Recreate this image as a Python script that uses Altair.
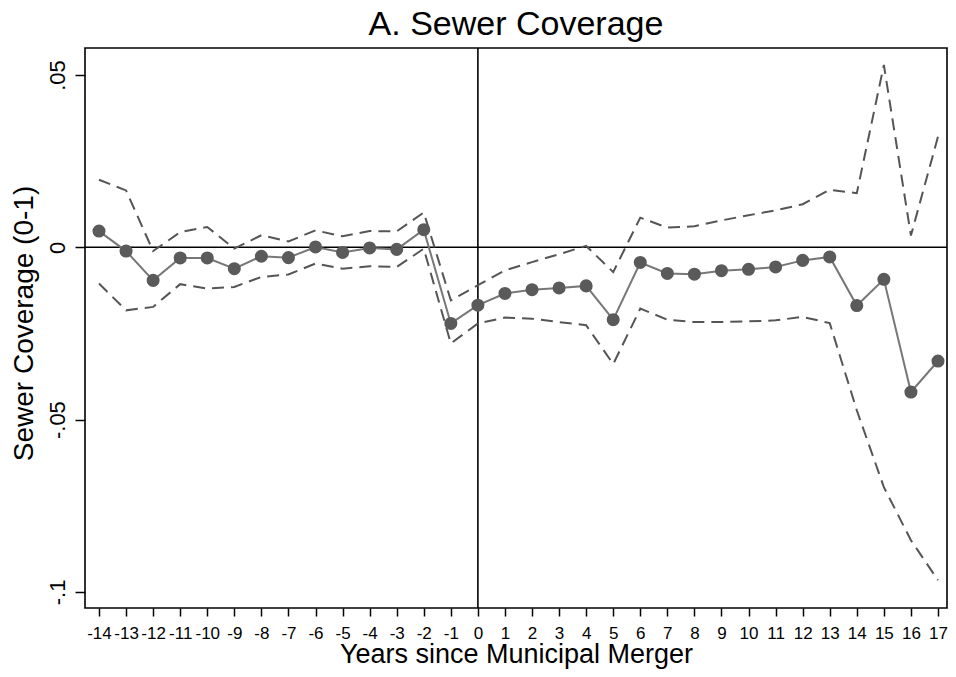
import altair as alt
import pandas as pd

# event-study estimates
years = list(range(-14, 18))
coef = [0.0047, -0.0011, -0.0096, -0.0031, -0.0031, -0.0062, -0.0026, -0.0030,
        0.0001, -0.0015, -0.0002, -0.0006, 0.0051, -0.0221, -0.0168, -0.0134,
        -0.0123, -0.0118, -0.0112, -0.0210, -0.0044, -0.0076, -0.0078, -0.0068,
        -0.0064, -0.0057, -0.0038, -0.0028, -0.0169, -0.0093, -0.0420, -0.0330]
ci_upper = [0.0196, 0.0165, -0.0011, 0.0044, 0.0059, -0.0004, 0.0035, 0.0017,
            0.0049, 0.0032, 0.0047, 0.0046, 0.0101, -0.0154, -0.0110, -0.0067,
            -0.0043, -0.0020, 0.0004, -0.0072, 0.0086, 0.0057, 0.0061, 0.0078,
            0.0093, 0.0107, 0.0125, 0.0167, 0.0157, 0.0529, 0.0034, 0.0321]
ci_lower = [-0.0105, -0.0183, -0.0173, -0.0107, -0.0120, -0.0115, -0.0086, -0.0079,
            -0.0047, -0.0062, -0.0055, -0.0057, -0.0004, -0.0279, -0.0221, -0.0204,
            -0.0207, -0.0217, -0.0226, -0.0339, -0.0178, -0.0210, -0.0217, -0.0217,
            -0.0215, -0.0212, -0.0202, -0.0220, -0.0473, -0.0696, -0.0850, -0.0966]
y_ticks = [-0.1, -0.05, 0, 0.05]

df = pd.DataFrame({'year': years, 'coef': coef, 'upper': ci_upper, 'lower': ci_lower})
zero = pd.DataFrame({'v': [0]})

FONT = 'Liberation Sans'
x_scale = alt.Scale(domain=[-14.517, 17.333], nice=False, zero=False)
y_scale = alt.Scale(domain=[-0.10467, 0.05783], nice=False, zero=False)

x_axis = alt.Axis(
    values=years, labelExpr="'' + datum.value", title='Years since Municipal Merger',
    grid=False, domain=False, tickSize=8, tickColor='black', tickWidth=1.5,
    labelFontSize=17, labelPadding=22, labelBaseline='alphabetic', labelColor='black',
    labelOverlap=False, labelFlush=False, labelBound=False,
    titleFontSize=27, titleFontWeight='normal', titleColor='black',
    titleBaseline='alphabetic', titleY=54
)
y_axis = alt.Axis(
    values=y_ticks, labelExpr="replace('' + datum.value, '0.', '.')",
    title='Sewer Coverage (0-1)', grid=False, domain=False,
    tickSize=10, tickColor='black', tickWidth=1.5,
    labelAngle=270, labelAlign='center', labelBaseline='alphabetic', labelPadding=11,
    labelFontSize=22, labelColor='black', labelOverlap=False, labelBound=False,
    titleFontSize=28, titleFontWeight='normal', titleColor='black',
    titleAngle=270, titleBaseline='alphabetic', titleAlign='center',
    titleX=-53, titleY=275
)

def xe(field):
    return alt.X(field, type='quantitative', scale=x_scale, axis=x_axis)

def ye(field):
    return alt.Y(field, type='quantitative', scale=y_scale, axis=y_axis)

hline = alt.Chart(zero).mark_rule(color='black', strokeWidth=1.6).encode(y=ye('v'))
vline = alt.Chart(zero).mark_rule(color='black', strokeWidth=1.6).encode(x=xe('v'))

base = alt.Chart(df)
upper = base.mark_line(color='#555555', strokeWidth=2, strokeDash=[12, 7]).encode(x=xe('year'), y=ye('upper'))
lower = base.mark_line(color='#555555', strokeWidth=2, strokeDash=[12, 7]).encode(x=xe('year'), y=ye('lower'))
line = base.mark_line(color='#777777', strokeWidth=2).encode(x=xe('year'), y=ye('coef'))
points = base.mark_circle(size=170, color='#5a5a5a', opacity=1).encode(x=xe('year'), y=ye('coef'))

chart = alt.layer(hline, vline, upper, lower, line, points).properties(
    width=862,
    height=560,
    autosize=alt.AutoSizeParams(type='none'),
    padding={'left': 77, 'top': 40, 'right': 1, 'bottom': 61},
    title=alt.TitleParams('A. Sewer Coverage', fontSize=34, fontWeight='normal', font=FONT,
                          anchor='middle', frame='group', baseline='alphabetic',
                          offset=11, dy=33, color='black')
).configure(
    font=FONT, background='white'
).configure_view(
    stroke='black', strokeWidth=1.6
)

chart.save("out.html", embed_options={"renderer": "svg", "actions": False})
